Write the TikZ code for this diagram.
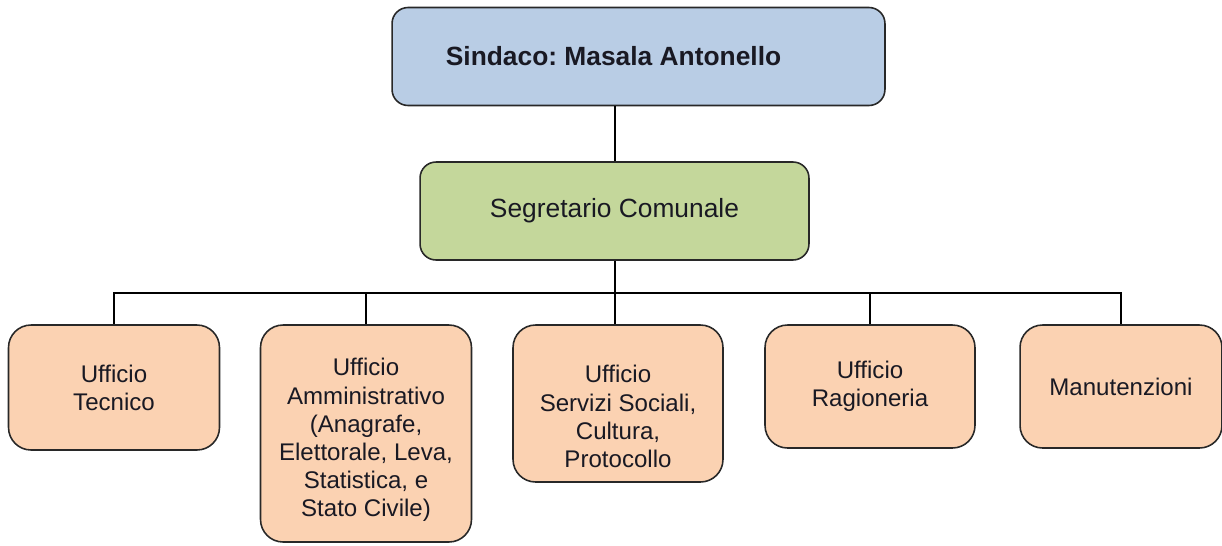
\documentclass[tikz,border=0pt]{standalone}
\usepackage{fontspec}
\setmainfont{Liberation Sans}
\frenchspacing
\usetikzlibrary{positioning}
\definecolor{capo}{RGB}{185,205,229}
\definecolor{segr}{RGB}{196,215,155}
\definecolor{uff}{RGB}{251,210,178}
\definecolor{bordo}{RGB}{40,40,40}
\definecolor{testo}{RGB}{25,25,35}
\tikzset{
  capobox/.style={draw=bordo, line width=0.9pt, rounded corners=0.32cm, fill=capo,
              minimum width=9.86cm, minimum height=1.96cm},
  segrbox/.style={draw=bordo, line width=0.9pt, rounded corners=0.32cm, fill=segr,
              minimum width=7.78cm, minimum height=1.96cm, text=testo,
              font=\fontsize{15}{18}\selectfont},
  uffbox/.style={draw=bordo, line width=0.9pt, rounded corners=0.45cm, fill=uff,
              minimum width=4.22cm, align=center, text=testo, inner sep=0pt,
              font=\fontsize{13.7}{16}\selectfont},
  uffcap/.style={align=center, text=testo, font=\fontsize{13.7}{16}\selectfont},
  link/.style={black, line width=0.8pt},
}

\begin{document}
\begin{tikzpicture}[x=0.02cm,y=-0.02cm]
    \useasboundingbox (0,0) rectangle (1222,545);
    % vertici
    \node[capobox, label={[text=testo,font=\fontsize{15}{18}\selectfont\bfseries,xshift=-0.5cm]center:Sindaco: Masala Antonello}] (sindaco) at (638.5,56.5) {};
    \node[segrbox] (segretario) at (614.5,211) {Segretario Comunale};
    % uffici
    \node[uffbox, minimum height=2.5cm] (tecnico) at (114,387.5) {Ufficio\\Tecnico};
    \node[uffbox, minimum height=4.34cm, label={[uffcap,yshift=-0.13cm]center:{Ufficio\\Amministrativo\\(Anagrafe,\\Elettorale, Leva,\\Statistica, e\\Stato Civile)}}] (amm) at (366,433.5) {};
    \node[uffbox, minimum width=4.2cm, minimum height=3.14cm, label={[uffcap,yshift=-0.26cm]center:{Ufficio\\Servizi Sociali,\\Cultura,\\Protocollo}}] (sociali) at (618,403.5) {};
    \node[uffbox, minimum width=4.2cm, minimum height=2.46cm] (ragioneria) at (870,386.5) {Ufficio\\Ragioneria};
    \node[uffbox, minimum width=4.04cm, minimum height=2.46cm] (manut) at (1121,386.5) {Manutenzioni};
    % collegamenti
    \coordinate (bus) at (615,293);
    \draw[link] (segretario.north -| bus) -- (sindaco.south -| bus);
    \draw[link] (segretario.south -| bus) -- (bus);
    \draw[link] (bus) -| (tecnico.north);
    \draw[link] (bus) -| (amm.north);
    \draw[link] (bus) -- (sociali.north -| bus);
    \draw[link] (bus) -| (ragioneria.north);
    \draw[link] (bus) -| (manut.north);
\end{tikzpicture}
\end{document}
